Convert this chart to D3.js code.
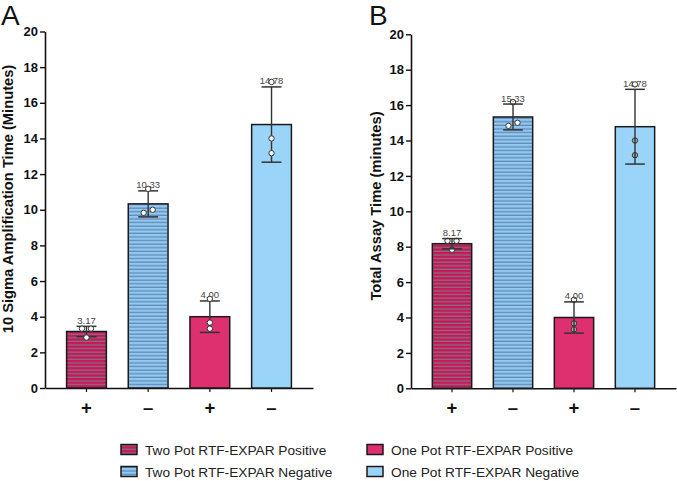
<!DOCTYPE html>
<html>
<head>
<meta charset="utf-8">
<script src="https://cdn.jsdelivr.net/npm/d3@7"></script>
<style>
  html, body { margin: 0; padding: 0; background: #fff; }
  svg { display: block; }
  text { font-family: "Liberation Sans", Arial, Helvetica, sans-serif; }
</style>
</head>
<body>
<svg id="chart" width="677" height="481"></svg>
<script>
// ---------- data ----------
const groups = ["Two Pot RTF-EXPAR Positive", "Two Pot RTF-EXPAR Negative", "One Pot RTF-EXPAR Positive", "One Pot RTF-EXPAR Negative"];
const signs = ["+", "\u2013", "+", "\u2013"];
const yTicks = [0, 2, 4, 6, 8, 10, 12, 14, 16, 18, 20];

// Panel A: 10 Sigma Amplification Time (Minutes)
const meansA = [3.17, 10.33, 4.00, 14.78];
const pointsA = [
  [3.33, 3.33, 2.83],
  [9.83, 10.00, 11.17],
  [5.00, 3.67, 3.33],
  [17.17, 14.00, 13.17]
];
const labelsA = ["3.17", "10.33", "4.00", "14.78"];

// Panel B: Total Assay Time (minutes)
const meansB = [8.17, 15.33, 4.00, 14.78];
const pointsB = [
  [8.33, 8.33, 7.83],
  [16.17, 14.83, 15.00],
  [5.00, 3.67, 3.33],
  [17.17, 14.00, 13.17]
];
const labelsB = ["8.17", "15.33", "4.00", "14.78"];

// ---------- styles ----------
const fills = ["url(#stripePink)", "url(#stripeBlue)", "#de2f6f", "#9bd4f9"];
const striped = [true, true, false, false];

const svg = d3.select("#chart");
const defs = svg.append("defs");
function stripe(id, base, line) {
  const p = defs.append("pattern").attr("id", id)
    .attr("patternUnits", "userSpaceOnUse").attr("width", 8).attr("height", 3.6);
  p.append("rect").attr("width", 8).attr("height", 3.6).attr("fill", base);
  p.append("rect").attr("y", 2.3).attr("width", 8).attr("height", 1.3).attr("fill", line);
}
stripe("stripePink", "#c9155e", "#857078");
stripe("stripeBlue", "#93c8f0", "#5f8bb9");

function sd(arr) {
  const m = d3.mean(arr);
  return Math.sqrt(d3.sum(arr, v => (v - m) ** 2) / (arr.length - 1));
}

function panel(cfg) {
  const g = svg.append("g");
  const x = d3.scaleBand().domain(d3.range(groups.length))
    .range([cfg.x0, cfg.x1]).paddingInner(0.355).paddingOuter(0.35);
  const y = d3.scaleLinear().domain([0, 20]).range([cfg.yBottom, cfg.yTop]);

  // y axis
  const ya = g.append("g").attr("transform", `translate(${cfg.x0},0)`)
    .call(d3.axisLeft(y).tickValues(yTicks).tickSize(5).tickPadding(2).tickSizeOuter(0));
  ya.select(".domain").attr("stroke", "#111").attr("stroke-width", 1.6);
  ya.selectAll(".tick line").attr("stroke", "#111").attr("stroke-width", 1.4);
  ya.selectAll(".tick text").attr("font-size", 13).attr("font-weight", "bold")
    .attr("fill", "#111").attr("font-family", "Liberation Sans, Arial, sans-serif");

  // x axis
  const xa = g.append("g").attr("transform", `translate(0,${cfg.yBottom})`)
    .call(d3.axisBottom(x).tickSize(4).tickSizeOuter(0).tickFormat(""));
  xa.select(".domain").attr("stroke", "#111").attr("stroke-width", 1.6);
  xa.selectAll(".tick line").attr("stroke", "#111").attr("stroke-width", 1.2);

  // bars
  g.selectAll("rect.bar").data(cfg.means).join("rect").attr("class", "bar")
    .attr("x", (d, i) => x(i))
    .attr("y", d => y(d))
    .attr("width", x.bandwidth())
    .attr("height", d => y(0) - y(d))
    .attr("fill", (d, i) => fills[i])
    .attr("stroke", "#1a1a1a").attr("stroke-width", 1.5);

  const cx = i => x(i) + x.bandwidth() / 2;
  const capW = x.bandwidth() / 2;

  function drawPoints() {
    cfg.points.forEach((pts, i) => {
      // spread nearly-equal values horizontally
      const offs = pts.map(() => 0);
      const used = pts.map(() => false);
      pts.forEach((v, a) => {
        if (used[a]) return;
        const grp = [a];
        pts.forEach((w, b) => { if (b !== a && !used[b] && Math.abs(w - v) < 0.25) grp.push(b); });
        if (grp.length > 1) {
          grp.forEach((k, j) => { offs[k] = (j - (grp.length - 1) / 2) * 9; used[k] = true; });
        }
      });
      g.selectAll(null).data(pts).join("circle")
        .attr("cx", (d, k) => cx(i) + offs[k])
        .attr("cy", d => y(d))
        .attr("r", 2.7)
        .attr("fill", d => (!striped[i] && d < cfg.means[i]) ? cfg.insideFill : "#fff")
        .attr("stroke", "#333").attr("stroke-width", 1);
    });
  }

  if (cfg.pointsUnder) drawPoints();

  // error bars
  cfg.means.forEach((m, i) => {
    const s = sd(cfg.points[i]);
    const top = y(m + s), bot = y(m - s);
    g.append("line").attr("x1", cx(i)).attr("x2", cx(i)).attr("y1", top).attr("y2", bot)
      .attr("stroke", "#333").attr("stroke-width", 1.4);
    [top, bot].forEach(yy => g.append("line")
      .attr("x1", cx(i) - capW / 2).attr("x2", cx(i) + capW / 2)
      .attr("y1", yy).attr("y2", yy)
      .attr("stroke", "#333").attr("stroke-width", 1.5));
    g.append("text").attr("x", cx(i)).attr("y", top - 2.5)
      .attr("text-anchor", "middle").attr("font-size", 9.5).attr("fill", "#444")
      .text(cfg.labels[i]);
  });

  if (!cfg.pointsUnder) drawPoints();

  // x sign labels
  g.selectAll("text.sign").data(signs).join("text").attr("class", "sign")
    .attr("x", (d, i) => cx(i)).attr("y", 413.5)
    .attr("text-anchor", "middle").attr("font-size", 18.5).attr("font-weight", "bold")
    .attr("fill", "#111").text(d => d);

  // axis title
  g.append("text")
    .attr("transform", `translate(${cfg.titleX},${cfg.titleY}) rotate(-90)`)
    .attr("text-anchor", "middle").attr("font-size", 14.7).attr("font-weight", "bold")
    .attr("fill", "#111").text(cfg.title);

  // panel letter
  g.append("text").attr("x", cfg.letterX).attr("y", 25)
    .attr("font-size", 28).attr("fill", "#111").text(cfg.letter);
}

panel({
  x0: 45, x1: 313, yBottom: 388, yTop: 31.5,
  means: meansA, points: pointsA, labels: labelsA,
  title: "10 Sigma Amplification Time (Minutes)", titleX: 13, titleY: 199,
  letter: "A", letterX: 1, pointsUnder: false, insideFill: "#fff"
});
panel({
  x0: 411, x1: 676, yBottom: 388.3, yTop: 34.3,
  means: meansB, points: pointsB, labels: labelsB,
  title: "Total Assay Time (minutes)", titleX: 381, titleY: 206,
  letter: "B", letterX: 369, pointsUnder: true, insideFill: "#a8a8a8"
});

// legend
const legendPos = [[121, 449.5], [121, 471.5], [367, 449.5], [367, 471.5]];
const lg = svg.append("g");
groups.forEach((name, i) => {
  const [lx, ly] = legendPos[i];
  lg.append("rect").attr("x", lx).attr("y", ly - 5).attr("width", 16).attr("height", 10)
    .attr("fill", fills[i]).attr("stroke", "#1a1a1a").attr("stroke-width", 1.5);
  lg.append("text").attr("x", lx + 24).attr("y", ly + 5)
    .attr("font-size", 13.7).attr("fill", "#222").text(name);
});
</script>
</body>
</html>
